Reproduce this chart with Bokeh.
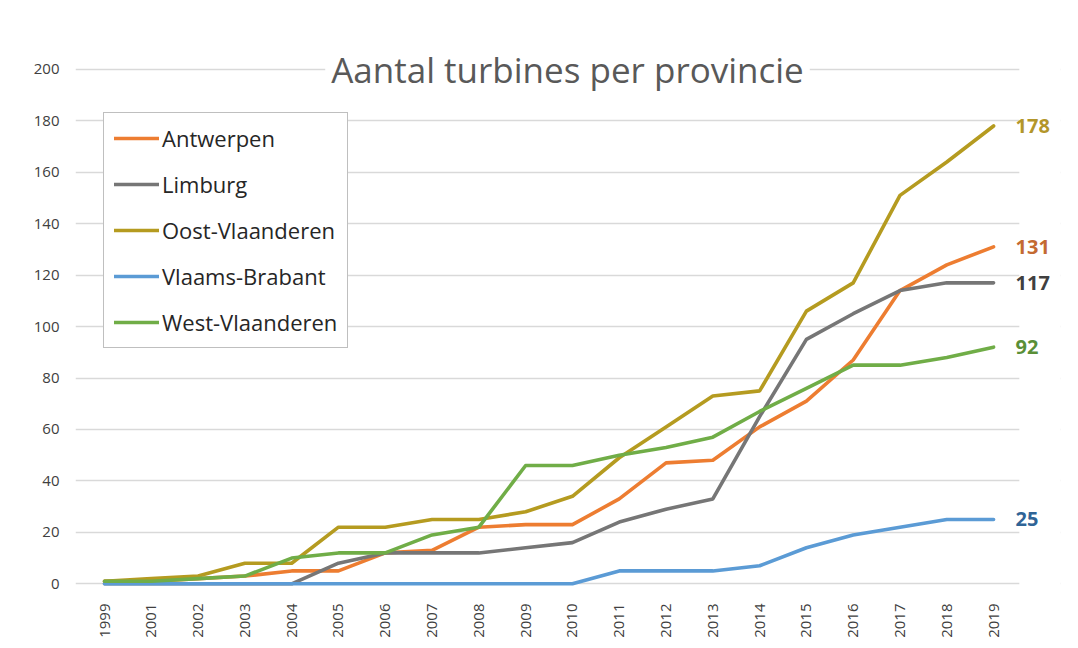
from bokeh.plotting import figure
from bokeh.models import Range1d, FixedTicker, Label, Legend, LegendItem, BoxAnnotation
from bokeh.embed import file_html
from bokeh.resources import INLINE
import math

years = ["1999", "2001", "2002", "2003", "2004", "2005", "2006", "2007", "2008", "2009",
         "2010", "2011", "2012", "2013", "2014", "2015", "2016", "2017", "2018", "2019"]

antwerpen = [1, 1, 2, 3, 5, 5, 12, 13, 22, 23, 23, 33, 47, 48, 61, 71, 87, 114, 124, 131]
limburg = [0, 0, 0, 0, 0, 8, 12, 12, 12, 14, 16, 24, 29, 33, 65, 95, 105, 114, 117, 117]
oost_vlaanderen = [1, 2, 3, 8, 8, 22, 22, 25, 25, 28, 34, 49, 61, 73, 75, 106, 117, 151, 164, 178]
vlaams_brabant = [0, 0, 0, 0, 0, 0, 0, 0, 0, 0, 0, 5, 5, 5, 7, 14, 19, 22, 25, 25]
west_vlaanderen = [1, 1, 2, 3, 10, 12, 12, 19, 22, 46, 46, 50, 53, 57, 67, 76, 85, 85, 88, 92]

series_names = ["Antwerpen", "Limburg", "Oost-Vlaanderen", "Vlaams-Brabant", "West-Vlaanderen"]
series_values = [antwerpen, limburg, oost_vlaanderen, vlaams_brabant, west_vlaanderen]
line_colors = ["#ED7D31", "#767676", "#B59B20", "#5B9BD5", "#70AD47"]
end_label_colors = ["#C46A32", "#404040", "#B3962A", "#2F6496", "#5A8F38"]
y_ticks = [0, 20, 40, 60, 80, 100, 120, 140, 160, 180, 200]

title_text = "Aantal turbines per provincie"
FONT = "Open Sans"

x_idx = list(range(len(years)))
x_start = -0.62
x_grid_end = x_idx[-1] + 0.55

p = figure(width=1070, height=640, x_range=Range1d(x_start, x_idx[-1] + 1.43),
           y_range=Range1d(-3, 212), output_backend="svg", toolbar_location=None,
           min_border_left=75, min_border_right=10, min_border_top=38, min_border_bottom=48)
p.outline_line_color = None
p.background_fill_color = "white"
p.border_fill_color = "white"

p.xgrid.grid_line_color = None
p.ygrid.grid_line_color = "#D9D9D9"
p.ygrid.grid_line_width = 1.3
p.yaxis.ticker = FixedTicker(ticks=y_ticks)
p.xaxis.ticker = FixedTicker(ticks=x_idx)
p.xaxis.major_label_overrides = {i: y for i, y in zip(x_idx, years)}

# hide the gridlines to the right of the plotted categories (end-label area)
p.add_layout(BoxAnnotation(left=x_grid_end, fill_color="white", fill_alpha=1,
                           line_color=None, level="underlay"))

for ax in (p.xaxis, p.yaxis):
    ax.axis_line_color = None
    ax.major_tick_line_color = None
    ax.minor_tick_line_color = None
    ax.major_label_text_font = FONT
    ax.major_label_text_color = "#404040"
    ax.major_label_text_font_size = "15px"
p.yaxis.major_label_standoff = 10
p.xaxis.major_label_orientation = math.pi / 2
p.xaxis.major_label_standoff = 6

items = []
for name, vals, col in zip(series_names, series_values, line_colors):
    r = p.line(x=x_idx, y=vals, line_color=col, line_width=3.6,
               line_join="round", line_cap="round")
    items.append(LegendItem(label=name, renderers=[r]))

legend = Legend(items=items, location=(28, 243))
legend.label_text_font = FONT
legend.label_text_font_size = "22px"
legend.label_text_color = "#262626"
legend.glyph_width = 45
legend.glyph_height = 24
legend.label_height = 24
legend.label_standoff = 3
legend.spacing = 16
legend.padding = 10
legend.margin = 0
legend.border_line_color = "#7F7F7F"
legend.border_line_width = 1.5
legend.background_fill_color = "white"
legend.background_fill_alpha = 1
p.add_layout(legend, "center")

for vals, col in zip(series_values, end_label_colors):
    p.add_layout(Label(x=x_idx[-1], y=vals[-1], x_offset=22, text=str(vals[-1]),
                       text_color=col, text_font=FONT, text_font_size="20px",
                       text_font_style="bold", text_baseline="middle", text_align="left"))

title = Label(x=492, y=y_ticks[-1], x_units="screen", y_units="data", text=title_text,
              text_font=FONT, text_font_size="35px", text_color="#595959",
              text_align="center", text_baseline="middle",
              background_fill_color="white", background_fill_alpha=1,
              padding=6)
p.add_layout(title)

open("out.html", "w").write(file_html(p, INLINE))
